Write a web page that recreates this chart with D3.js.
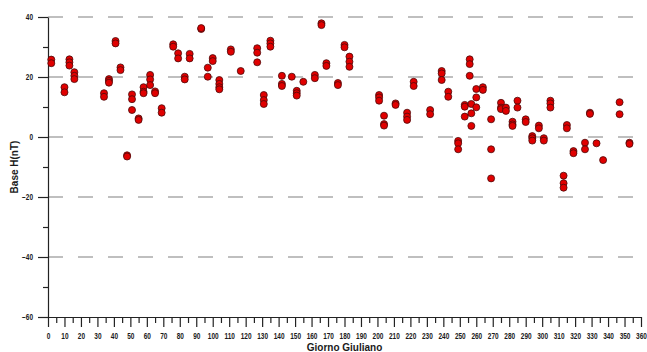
<!DOCTYPE html>
<html>
<head>
<meta charset="utf-8">
<script src="https://cdn.jsdelivr.net/npm/d3@7"></script>
<style>
  body { margin: 0; background: #fff; }
  svg { display: block; }
  text { font-family: "Liberation Sans", Arial, sans-serif; font-weight: bold; }
</style>
</head>
<body>
<div id="chart"></div>
<script>
// julian day of each measurement group
const days = [2, 10, 13, 16, 34, 37, 41, 44, 48, 51, 55, 58, 62, 65, 69, 76, 79, 83, 86, 93,
  97, 100, 104, 111, 117, 127, 131, 135, 142, 148, 151, 155, 162, 166, 169, 176, 180, 183,
  201, 204, 211, 218, 222, 232, 239, 243, 249, 253, 256, 257, 260, 264, 269, 275, 278, 282,
  285, 290, 294, 298, 301, 305, 313, 315, 319, 326, 329, 333, 337, 347, 353];

// base H values (nT) for each day
const baseH = [
  [25.8, 24.6], [16.6, 14.9], [25.9, 24.9, 23.8], [21.6, 20.4, 19.3], [14.6, 13.4],
  [19.3, 18.7, 18.1], [32, 31.2], [23.2, 22.3], [-6.1, -6.5], [14.2, 12.6, 9],
  [6.2, 5.7], [16.6, 15.1, 14.6], [20.7, 19.2, 17.3], [15.2, 14.6], [9.6, 8.1],
  [30.9, 30.1], [27.9, 26.2], [20.1, 19.2], [27.7, 26.2], [36, 36.3],
  [23.1, 20.1], [26.3, 25.3], [19, 17.7, 16.6, 15.9], [29.2, 28.4], [22],
  [29.6, 28.1, 24.9], [14, 12.3, 11], [32.1, 31.2, 30.1], [20.4, 17.7, 17], [20.1],
  [15.4, 14.6, 13.8], [18.4], [20.7, 19.6], [37.9, 37.3], [24.6, 23.7],
  [18, 17.3], [30.7, 29.9], [26.8, 25.1, 23.4],
  [14, 13.2, 12.1], [7.1, 4.3, 3.8], [11.2, 10.7], [8.1, 6.8, 5.7], [18.4, 17],
  [9, 7.6], [22, 21.2, 19], [15.1, 13.4], [-1.3, -2.1, -4.1], [10.7, 10.1, 6.8],
  [25.9, 24.3, 20.4], [11, 7.9, 3.7], [16, 13.2, 9.9], [16.6, 15.7], [5.9, -4.1, -13.8],
  [11.4, 9.8, 9.3], [9.8, 8.7], [5.1, 4.2, 3.7], [12.1, 9.8], [5.9, 5],
  [0.3, -0.4, -1.2], [3.8, 2.9], [-0.4, -1.2], [12.1, 11.2, 9.8], [-12.9, -15.4, -16.9],
  [4, 2.9], [-4.7, -5.4], [-1.9, -4.1], [8.1, 7.7], [-2.1], [-7.7], [11.6, 7.6], [-1.9, -2.3]
];

const xTicks = d3.range(0, 361, 10);
const yTicks = [-60, -40, -20, 0, 20, 40];
const gridValues = [-40, -20, 0, 20, 40];

const width = 647, height = 352;
const margin = { top: 17, right: 6, bottom: 35, left: 48 };
const squeeze = 0.78; // the original tick font is narrow

const points = [];
days.forEach((d, i) => baseH[i].forEach(v => points.push({ day: d, value: v })));

const x = d3.scaleLinear().domain([0, 360]).range([margin.left, width - margin.right]);
const y = d3.scaleLinear().domain([-60, 40]).range([height - margin.bottom, margin.top]);

const svg = d3.select("#chart").append("svg")
  .attr("width", width)
  .attr("height", height);

// dashed grid lines
svg.append("g").selectAll("line").data(gridValues)
  .join("line")
  .attr("x1", x(0))
  .attr("x2", x(360))
  .attr("y1", d => y(d))
  .attr("y2", d => y(d))
  .attr("stroke", "#808080")
  .attr("stroke-width", 1.2)
  .attr("stroke-dasharray", "15,15");

// minor ticks
svg.append("g")
  .attr("transform", `translate(0, ${y(-60)})`)
  .call(d3.axisBottom(x).tickValues(d3.range(5, 360, 10)).tickSize(6).tickFormat(""))
  .call(g => g.select(".domain").remove());
svg.append("g")
  .attr("transform", `translate(${x(0)}, 0)`)
  .call(d3.axisLeft(y).tickValues([-50, -30, -10, 10, 30]).tickSize(5).tickFormat(""))
  .call(g => g.select(".domain").remove());

// main axes
const xAxis = svg.append("g")
  .attr("transform", `translate(0, ${y(-60)})`)
  .call(d3.axisBottom(x).tickValues(xTicks).tickSize(10).tickPadding(6).tickSizeOuter(0));
xAxis.selectAll("text")
  .attr("font-size", 8.3)
  .attr("fill", "#1a1a1a")
  .attr("transform", `scale(${squeeze},1)`);

const yAxis = svg.append("g")
  .attr("transform", `translate(${x(0)}, 0)`)
  .call(d3.axisLeft(y).tickValues(yTicks).tickSize(10).tickPadding(5).tickSizeOuter(0));
yAxis.selectAll("text")
  .attr("font-size", 8.3)
  .attr("fill", "#1a1a1a")
  .attr("x", -15 / squeeze)
  .attr("transform", `scale(${squeeze},1)`);

svg.selectAll(".domain, .tick line").attr("stroke", "#222").attr("stroke-width", 1.2);

// points
svg.append("g").selectAll("circle").data(points)
  .join("circle")
  .attr("cx", d => x(d.day))
  .attr("cy", d => y(d.value))
  .attr("r", 3.5)
  .attr("fill", "#e00000")
  .attr("stroke", "#4a0a0a")
  .attr("stroke-width", 0.8);

// axis titles
svg.append("text")
  .attr("x", (x(0) + x(360)) / 2)
  .attr("y", 351)
  .attr("text-anchor", "middle")
  .attr("font-size", 10)
  .attr("fill", "#1a1a1a")
  .text("Giorno Giuliano");

svg.append("text")
  .attr("transform", `translate(17.5, ${(y(-60) + y(40)) / 2}) rotate(-90)`)
  .attr("text-anchor", "middle")
  .attr("font-size", 10)
  .attr("fill", "#1a1a1a")
  .text("Base H(nT)");
</script>
</body>
</html>
